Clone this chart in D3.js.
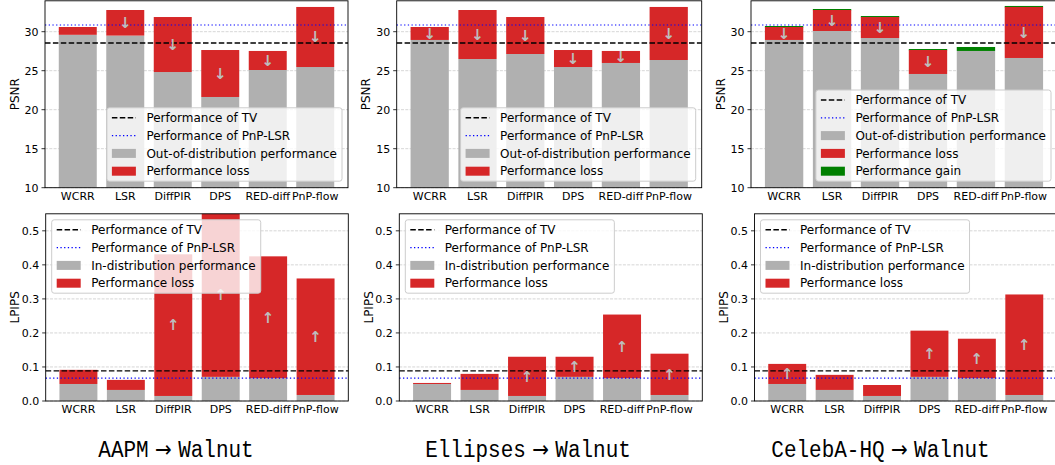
<!DOCTYPE html>
<html>
<head>
<meta charset="utf-8">
<script src="https://cdn.jsdelivr.net/npm/d3@7"></script>
<style>
  body { margin: 0; background: #fff; }
  svg { display: block; font-family: "DejaVu Sans", sans-serif; }
</style>
</head>
<body>
<div id="chart"></div>
<script>
// methods on the x axis
const methods = ["WCRR", "LSR", "DiffPIR", "DPS", "RED-diff", "PnP-flow"];

// PSNR: trained on Walnut (in-distribution) and trained elsewhere (out-of-distribution)
const psnrWalnut   = [30.6, 32.78, 31.88, 27.65, 27.53, 33.17];
const psnrAapm     = [29.6, 29.5, 24.83, 21.63, 25.09, 25.47];
const psnrEllipses = [28.94, 26.5, 27.14, 25.47, 25.99, 26.37];
const psnrCeleba   = [28.94, 30.09, 29.19, 24.58, 28.04, 26.63];
const psnrTV = 28.55, psnrPnpLsr = 30.86;

// LPIPS (lower is better)
const lpipsWalnut   = [0.050, 0.0325, 0.0148, 0.0709, 0.067, 0.0177];
const lpipsAapm     = [0.0915, 0.062, 0.431, 0.556, 0.425, 0.360];
const lpipsEllipses = [0.053, 0.0797, 0.130, 0.130, 0.254, 0.139];
const lpipsCeleba   = [0.109, 0.0768, 0.047, 0.2067, 0.183, 0.313];
const lpipsTV = 0.0886, lpipsPnpLsr = 0.067;

const psnrTicks = [10, 15, 20, 25, 30];
const lpipsTicks = [0, 0.1, 0.2, 0.3, 0.4, 0.5];

const sources = ["AAPM", "Ellipses", "CelebA-HQ"];

//==============================================================================

const width = 1055, height = 465;
const RED = "#d62728", GRAY = "#b0b0b0", GREEN = "#008000";

const svg = d3.select("#chart").append("svg")
    .attr("width", width)
    .attr("height", height);

const defs = svg.append("defs");

// axes boxes (pixels) of the 2x3 grid
const topBoxes = [[45, 348], [396.7, 701.7], [751, 1057]];
const botBoxes = [[45.7, 348.3], [399.3, 702.3], [754.5, 1057]];
const topRows = [0.8, 187.7], botRows = [213.8, 401];
const titleX = [176, 528, 880.5];

let clipId = 0;

function drawPanel({x0, x1, y0, y1, domain, ticks, fmt, label, walnut, other, tv, pnp, lowerBetter, legendItems, legendPos, threshold}) {
  const g = svg.append("g");
  const x = d3.scaleBand().domain(methods).range([x0, x1]).paddingInner(0.2).paddingOuter(0.29);
  const y = d3.scaleLinear().domain(domain).range([y1, y0]);

  const id = "clip" + (clipId++);
  defs.append("clipPath").attr("id", id)
    .append("rect").attr("x", x0).attr("y", y0).attr("width", x1 - x0).attr("height", y1 - y0);

  // grid
  g.append("g").selectAll("line").data(ticks).join("line")
      .attr("x1", x0).attr("x2", x1)
      .attr("y1", d => y(d)).attr("y2", d => y(d))
      .attr("stroke", "#cccccc").attr("stroke-width", 0.8)
      .attr("stroke-dasharray", "3,1.3");

  const rows = methods.map((m, i) => {
    const a = walnut[i], b = other[i];
    if (lowerBetter) return {m, gray: a, red: b > a ? [a, b] : null, green: null};
    return {m, gray: Math.min(a, b), red: a > b ? [b, a] : null, green: b > a ? [a, b] : null};
  });
  const hasGain = legendItems.some(d => d.label === "Performance gain");

  const bars = g.append("g").attr("clip-path", `url(#${id})`);
  bars.selectAll(".gray").data(rows).join("rect")
      .attr("x", d => x(d.m)).attr("width", x.bandwidth())
      .attr("y", d => y(d.gray)).attr("height", d => y(domain[0]) - y(d.gray))
      .attr("fill", GRAY);
  if (hasGain) {
    // thin green edge sitting on top of every bar, as in the original figure
    bars.selectAll(".gedge").data(rows.filter(d => d.red)).join("rect")
        .attr("x", d => x(d.m)).attr("width", x.bandwidth())
        .attr("y", d => y(d.red[1]) - 1).attr("height", 1.4)
        .attr("fill", GREEN);
  }
  bars.selectAll(".red").data(rows.filter(d => d.red)).join("rect")
      .attr("x", d => x(d.m)).attr("width", x.bandwidth())
      .attr("y", d => y(d.red[1])).attr("height", d => y(d.red[0]) - y(d.red[1]))
      .attr("fill", RED);
  bars.selectAll(".green").data(rows.filter(d => d.green)).join("rect")
      .attr("x", d => x(d.m)).attr("width", x.bandwidth())
      .attr("y", d => y(d.green[1])).attr("height", d => y(d.green[0]) - y(d.green[1]))
      .attr("fill", GREEN);

  // reference lines
  g.append("line").attr("x1", x0).attr("x2", x1).attr("y1", y(tv)).attr("y2", y(tv))
      .attr("stroke", "#000").attr("stroke-width", 1.4).attr("stroke-dasharray", "5.5,2.4");
  g.append("line").attr("x1", x0).attr("x2", x1).attr("y1", y(pnp)).attr("y2", y(pnp))
      .attr("stroke", "#0000ff").attr("stroke-width", 1.2).attr("stroke-dasharray", "1.3,2.4");

  // arrows in the middle of the loss part
  g.append("g").attr("clip-path", `url(#${id})`)
    .selectAll("text").data(rows.filter(d => d.red && d.red[1] - d.red[0] > threshold)).join("text")
      .attr("x", d => x(d.m) + x.bandwidth() / 2)
      .attr("y", d => y((d.red[0] + d.red[1]) / 2))
      .attr("dy", "0.35em")
      .attr("text-anchor", "middle")
      .attr("font-size", 15)
      .attr("font-weight", "bold")
      .attr("fill", "#bdbdbd")
      .text(lowerBetter ? "\u2191" : "\u2193");

  // frame
  g.append("rect").attr("x", x0).attr("y", y0).attr("width", x1 - x0).attr("height", y1 - y0)
      .attr("fill", "none").attr("stroke", "#000").attr("stroke-width", 0.9);

  // y axis
  const yt = g.append("g").selectAll("g").data(ticks).join("g");
  yt.append("line").attr("x1", x0 - 3.5).attr("x2", x0)
      .attr("y1", d => y(d)).attr("y2", d => y(d)).attr("stroke", "#000").attr("stroke-width", 0.8);
  yt.append("text").attr("x", x0 - 6.5).attr("y", d => y(d)).attr("dy", "0.35em")
      .attr("text-anchor", "end").attr("font-size", 11).text(fmt);

  g.append("text")
      .attr("transform", `translate(${x0 - 30.5},${(y0 + y1) / 2}) rotate(-90)`)
      .attr("dy", "0.35em").attr("text-anchor", "middle").attr("font-size", 12)
      .text(label);

  // x labels
  g.append("g").selectAll("text").data(methods).join("text")
      .attr("x", d => x(d) + x.bandwidth() / 2).attr("y", y1 + 12.3)
      .attr("text-anchor", "middle").attr("font-size", 11).text(d => d);

  // legend
  const leg = g.append("g");
  const box = leg.append("rect").attr("rx", 2.5)
      .attr("fill", "#fff").attr("fill-opacity", 0.8)
      .attr("stroke", "#cccccc").attr("stroke-width", 1);
  const rowH = 17.8, pad = 10;
  const items = leg.selectAll("g").data(legendItems).join("g")
      .attr("transform", (d, i) => `translate(0,${pad + i * rowH})`);
  items.each(function(d) {
    const it = d3.select(this);
    if (d.type === "line") {
      it.append("line").attr("x1", 5).attr("x2", 29).attr("y1", 0).attr("y2", 0)
        .attr("stroke", d.color).attr("stroke-width", d.width).attr("stroke-dasharray", d.dash);
    } else {
      it.append("rect").attr("x", 5).attr("y", -4.5).attr("width", 24).attr("height", 9).attr("fill", d.color);
    }
    it.append("text").attr("x", 39.5).attr("dy", "0.35em").attr("font-size", 12).text(d.label);
  });
  const tw = d3.max(items.selectAll("text").nodes(), n => n.getComputedTextLength());
  const bw = 39.5 + tw + 5, bh = pad * 2 + (legendItems.length - 1) * rowH;
  box.attr("width", bw).attr("height", bh);
  const lx = legendPos === "lower right" ? x1 - 6 - bw : x0 + 6;
  const ly = legendPos === "lower right" ? y1 - 6.5 - bh : y0 + 6;
  leg.attr("transform", `translate(${lx},${ly})`);
}

//==============================================================================

const lineItems = [
  {type: "line", label: "Performance of TV", color: "#000", width: 1.4, dash: "5.5,2.4"},
  {type: "line", label: "Performance of PnP-LSR", color: "#0000ff", width: 1.2, dash: "1.3,2.4"}
];
const psnrOther = [psnrAapm, psnrEllipses, psnrCeleba];
const lpipsOther = [lpipsAapm, lpipsEllipses, lpipsCeleba];

sources.forEach((src, k) => {
  const topItems = lineItems.concat([
    {type: "patch", label: "Out-of-distribution performance", color: GRAY},
    {type: "patch", label: "Performance loss", color: RED}
  ]);
  if (k === 2) topItems.push({type: "patch", label: "Performance gain", color: GREEN});

  drawPanel({
    x0: topBoxes[k][0], x1: topBoxes[k][1], y0: topRows[0], y1: topRows[1],
    domain: [10, 33.96], ticks: psnrTicks, fmt: d => d, label: "PSNR",
    walnut: psnrWalnut, other: psnrOther[k], tv: psnrTV, pnp: psnrPnpLsr,
    lowerBetter: false, legendItems: topItems, legendPos: "lower right", threshold: 1.2
  });

  drawPanel({
    x0: botBoxes[k][0], x1: botBoxes[k][1], y0: botRows[0], y1: botRows[1],
    domain: [0, 0.55], ticks: lpipsTicks, fmt: d3.format(".1f"), label: "LPIPS",
    walnut: lpipsWalnut, other: lpipsOther[k], tv: lpipsTV, pnp: lpipsPnpLsr,
    lowerBetter: true,
    legendItems: lineItems.concat([
      {type: "patch", label: "In-distribution performance", color: GRAY},
      {type: "patch", label: "Performance loss", color: RED}
    ]),
    legendPos: "upper left", threshold: 0.05
  });

  // title under each column, typewriter style
  const t = svg.append("text")
      .attr("transform", `translate(${titleX[k]},456.5) scale(1,1.15)`)
      .attr("text-anchor", "middle").attr("font-size", 21);
  t.append("tspan").attr("font-family", "Liberation Mono, monospace").text(src);
  t.append("tspan").attr("font-family", "DejaVu Sans, sans-serif").attr("font-size", 20)
      .text(" \u2192 ");
  t.append("tspan").attr("font-family", "Liberation Mono, monospace").text("Walnut");
});
</script>
</body>
</html>
